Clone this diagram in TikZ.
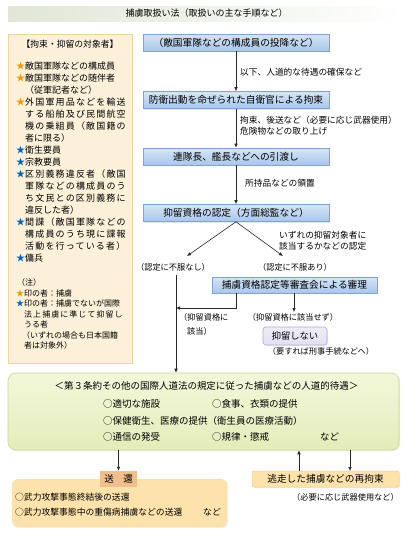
\documentclass[tikz,border=0pt]{standalone}
\usepackage{fontspec}
\setmainfont{Noto Sans CJK JP}
\newfontfamily\jpsp{Noto Sans CJK JP}[LetterSpace=13]
\usetikzlibrary{arrows.meta,shadows}
\definecolor{flowtop}{HTML}{D5E5F6}
\definecolor{flowbot}{HTML}{A9C7E9}
\definecolor{flowborder}{HTML}{7EA4D4}
\definecolor{leftfill}{HTML}{FDF0D9}
\definecolor{leftborder}{HTML}{EFD39D}
\definecolor{greentop}{HTML}{F3F7DA}
\definecolor{greenbot}{HTML}{E4ECBA}
\definecolor{greenborder}{HTML}{C8D890}
\definecolor{lavfill}{HTML}{E3E0F2}
\definecolor{lavborder}{HTML}{B1AAD6}
\definecolor{orfill}{HTML}{FDE3AB}
\definecolor{orborder}{HTML}{F3CF8E}
\definecolor{tabfill}{HTML}{F1BF8C}
\definecolor{starorange}{HTML}{F39800}
\definecolor{starblue}{HTML}{0068B7}
\definecolor{bandleft}{HTML}{DFE7D6}
\definecolor{bandmid}{HTML}{EEF3E8}
\newcommand\ostar{\textcolor{starorange}{★}}
\newcommand\bstar{\textcolor{starblue}{★}}
\begin{document}
\begin{tikzpicture}[x=1pt,y=-1pt,
  flow/.style={draw=flowborder,line width=0.6pt,top color=flowtop,bottom color=flowbot,
    minimum width=186pt,minimum height=17pt,inner sep=0pt,font=\fontsize{9.7}{11}\selectfont,
    drop shadow={opacity=0.18,shadow xshift=1.2pt,shadow yshift=-1.2pt}},
  lbl/.style={anchor=west,inner sep=0pt,font=\fontsize{8.7}{10}\selectfont},
  sm/.style={inner sep=0pt,font=\fontsize{8.2}{10}\selectfont},
  li/.style={anchor=west,inner sep=0pt,font=\fontsize{9}{11}\selectfont},
  nt/.style={anchor=west,inner sep=0pt,font=\fontsize{8}{10}\selectfont},
  gt/.style={anchor=west,inner sep=0pt,font=\fontsize{9.5}{11}\selectfont},
  arr/.style={draw=black!85,line width=0.6pt,-{Latex[length=4pt,width=3.5pt]}},
  ln/.style={draw=black!85,line width=0.6pt},
]
\useasboundingbox (0,0) rectangle (409,533);
\fill[white] (0,0) rectangle (409,533);

% title band
\node[minimum width=397pt,minimum height=15pt,inner sep=0pt,left color=bandleft,middle color=bandmid,right color=white,
  font=\fontsize{9}{11}\selectfont] (title) at (206.5,13.5) {捕虜取扱い法（取扱いの主な手順など）};

% left box
\node[draw=leftborder,fill=leftfill,line width=0.6pt,minimum width=124pt,minimum height=329pt,inner sep=0pt] (leftbox) at (70,198.5) {};
\node[inner sep=0pt,font=\fontsize{8.8}{10}\selectfont] (lt) at (70,44) {【拘束・抑留の対象者】};
\node[li] (L1) at (16,66) {\ostar 敵国軍隊などの構成員};
\node[li] (L2) at (16,78) {\ostar 敵国軍隊などの随伴者};
\node[li] (L3) at (25,90) {（従軍記者など）};
\node[li] (L4) at (16,102) {\ostar{\jpsp 外国軍用品などを輸送}};
\node[li] (L5) at (25,114) {{\jpsp する船舶及び民間航空}};
\node[li] (L6) at (25,126) {{\jpsp 機の乗組員（敵国籍の}};
\node[li] (L7) at (25,138) {者に限る）};
\node[li] (L8) at (16,150) {\bstar 衛生要員};
\node[li] (L9) at (16,162) {\bstar 宗教要員};
\node[li] (L10) at (16,174) {\bstar{\jpsp 区別義務違反者（敵国}};
\node[li] (L11) at (25,186) {{\jpsp 軍隊などの構成員のう}};
\node[li] (L12) at (25,198) {{\jpsp ち文民との区別義務に}};
\node[li] (L13) at (25,210) {違反した者）};
\node[li] (L14) at (16,222) {\bstar{\jpsp 間諜（敵国軍隊などの}};
\node[li] (L15) at (25,234) {{\jpsp 構成員のうち現に諜報}};
\node[li] (L16) at (25,246) {{\jpsp 活動を行っている者）}};
\node[li] (L17) at (16,258) {\bstar 傭兵};
\node[nt] (N1) at (17,282) {（注）};
\node[nt] (N2) at (16,293) {\ostar 印の者：捕虜};
\node[nt] (N3) at (16,303.5) {\bstar 印の者：捕虜でないが国際};
\node[nt] (N4) at (24,314) {{\jpsp 法上捕虜に準じて抑留し}};
\node[nt] (N5) at (24,324.5) {うる者};
\node[nt] (N6) at (22,335) {（いずれの場合も日本国籍};
\node[nt] (N7) at (24,345.5) {者は対象外）};

% main flow
\node[flow] (b1) at (236,42.5) {（敵国軍隊などの構成員の投降など）};
\node[flow] (b2) at (236,100) {防衛出動を命ぜられた自衛官による拘束};
\node[flow] (b3) at (236,156.5) {連隊長、艦長などへの引渡し};
\node[flow] (b4) at (236,213) {抑留資格の認定（方面総監など）};
\draw[arr] (b1) -- (b2);
\draw[arr] (b2) -- (b3);
\draw[arr] (b3) -- (b4);
\node[lbl] (l1) at (240,72) {以下、人道的な待遇の確保など};
\node[lbl] (l2) at (240,120) {拘束、後送など（必要に応じ武器使用）};
\node[lbl] (l3) at (240,131) {危険物などの取り上げ};
\node[lbl] (l4) at (245,183) {所持品などの領置};
\node[lbl] (l5) at (279,235) {いずれの抑留対象者に};
\node[lbl] (l6) at (279,246) {該当するかなどの認定};

\coordinate (da) at (187,256);
\coordinate (db) at (283,256);
\draw[arr] (b4.south) -- (da);
\draw[arr] (b4.south) -- (db);
\node[sm] (nashi) at (173,267) {（認定に不服なし）};
\node[sm] (ari) at (295,267) {（認定に不服あり）};

\node[flow,minimum width=165pt,minimum height=16pt] (b5) at (294.5,285) {捕虜資格認定等審査会による審理};

% green box
\node[draw=greenborder,line width=0.6pt,top color=greentop,bottom color=greenbot,rounded corners=8pt,
  minimum width=391pt,minimum height=77pt,inner sep=0pt,
  drop shadow={opacity=0.15,shadow xshift=1.2pt,shadow yshift=-1.2pt}] (green) at (203.5,411.5) {};

\coordinate (v1) at (176,275);
\draw[arr] (v1) -- (v1 |- green.north);
\coordinate (k1) at (236,308);
\draw[arr] (b5.south -| k1) -- (k1) -- (k1 -| v1);
\coordinate (k2) at (294,312);
\draw[arr] (b5.south -| k2) -- (k2);

\node[sm,anchor=west] (gai1) at (179,317) {（抑留資格に};
\node[sm,anchor=west] (gai2) at (187,331) {該当）};
\node[sm] (gaisezu) at (293,317) {（抑留資格に該当せず）};
\node[draw=lavborder,line width=0.6pt,top color=lavfill!60!white,bottom color=lavfill,rounded corners=3pt,
  minimum width=64pt,minimum height=18pt,inner sep=0pt,font=\fontsize{9.3}{11}\selectfont,
  drop shadow={opacity=0.15,shadow xshift=1pt,shadow yshift=-1pt}] (noryu) at (295,336) {抑留しない};
\node[sm] (keiji) at (321,351) {（要すれば刑事手続などへ）};

% green box text
\node[inner sep=0pt,font=\fontsize{9.5}{11}\selectfont] (gtitle) at (206.5,386) {＜第３条約その他の国際人道法の規定に従った捕虜などの人道的待遇＞};
\node[gt] (g1) at (103,404) {○適切な施設};
\node[gt] (g2) at (212,404) {○食事、衣類の提供};
\node[gt] (g3) at (103,421) {○保健衛生、医療の提供（衛生員の医療活動）};
\node[gt] (g4) at (103,437) {○通信の発受};
\node[gt] (g5) at (212,437) {○規律・懲戒};
\node[gt] (g6) at (320,437) {など};

% bottom left
\node[fill=orfill,rounded corners=6pt,minimum width=215pt,minimum height=48pt,inner sep=0pt,
  drop shadow={opacity=0.12,shadow xshift=1pt,shadow yshift=-1pt}] (sbox) at (119.5,503) {};
\node[fill=tabfill,minimum width=37pt,minimum height=16pt,inner sep=0pt,font=\fontsize{9.5}{11}\selectfont] (sokan) at (118.5,479) {送　還};
\node[anchor=west,inner sep=0pt,font=\fontsize{8.8}{10}\selectfont] (s1) at (15,497) {○武力攻撃事態終結後の送還};
\node[anchor=west,inner sep=0pt,font=\fontsize{8.8}{10}\selectfont] (s2) at (15,512) {○武力攻撃事態中の重傷病捕虜などの送還};
\node[anchor=west,inner sep=0pt,font=\fontsize{8.8}{10}\selectfont] (s3) at (203,512) {など};

% bottom right
\node[fill=orfill,draw=orborder,line width=0.5pt,rounded corners=2pt,minimum width=147pt,minimum height=16pt,inner sep=0pt,
  font=\fontsize{9.7}{11}\selectfont,drop shadow={opacity=0.15,shadow xshift=1pt,shadow yshift=-1pt}] (tousou) at (325.5,479) {逃走した捕虜などの再拘束};
\node[sm] (buki) at (345.5,497) {（必要に応じ武器使用など）};

\draw[arr] (green.south -| sokan) -- (sokan.north);
\coordinate (t1) at (299,471);
\coordinate (t2) at (350,471);
\draw[arr] (t1) -- (t1 |- green.south);
\draw[arr] (green.south -| t2) -- (t2);
\end{tikzpicture}
\end{document}
